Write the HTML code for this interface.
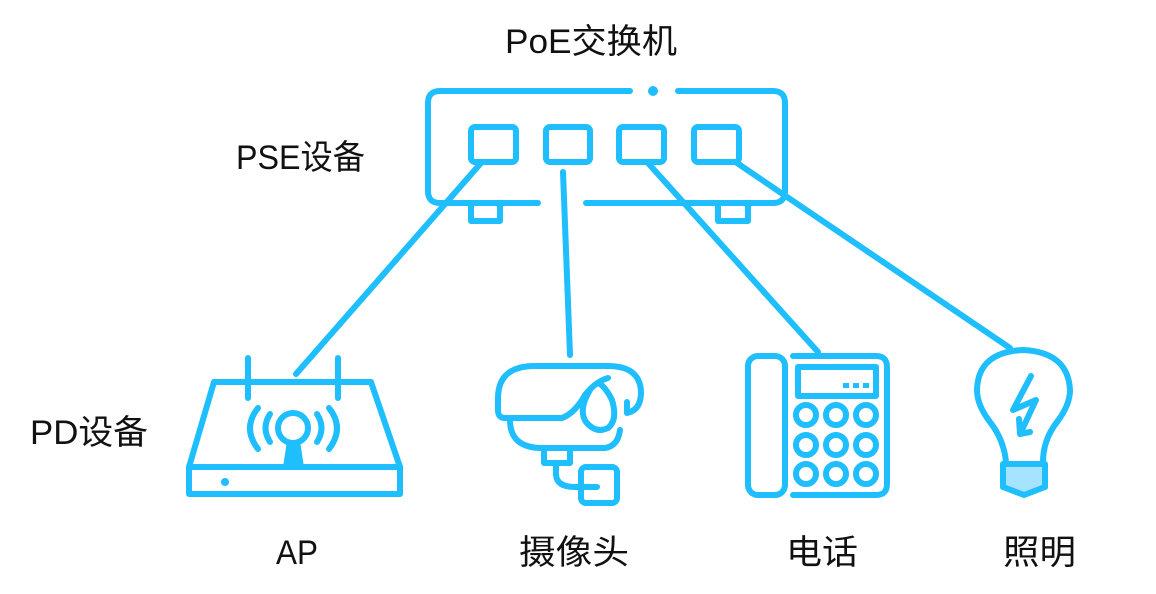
<!DOCTYPE html>
<html><head><meta charset="utf-8"><style>
html,body{margin:0;padding:0;background:#fff;}
svg{display:block;}
text{font-family:"Liberation Sans","Noto Sans CJK SC",sans-serif;font-size:34px;fill:#111;}
</style></head><body>
<svg width="1156" height="594" viewBox="0 0 1156 594" xmlns="http://www.w3.org/2000/svg">
<g fill="none" stroke="#1ebeff" stroke-width="6" stroke-linecap="round" stroke-linejoin="round">
<path d="M630 91 H440 Q428 91 428 103 V191 Q428 203 440 203 H538"/>
<path d="M678 91 H773 Q785 91 785 103 V191 Q785 203 773 203 H586"/>
<circle cx="653" cy="91" r="2" fill="#1ebeff"/>
<rect x="471" y="127" width="45" height="35" rx="4"/>
<rect x="546" y="127" width="44" height="35" rx="4"/>
<rect x="619" y="127" width="45" height="35" rx="4"/>
<rect x="694" y="127" width="45" height="35" rx="4"/>
<path d="M471 205 V221 H500 V205"/>
<path d="M718 205 V221 H748 V205"/>
<line x1="481" y1="163" x2="296" y2="374"/>
<line x1="563" y1="172" x2="570" y2="355"/>
<line x1="648" y1="163" x2="818" y2="352"/>
<line x1="737" y1="163" x2="1010" y2="348"/>
<!-- AP -->
<line x1="248" y1="358" x2="248" y2="398"/>
<line x1="338" y1="358" x2="338" y2="398"/>
<path d="M214 382 H371 L400 467 V494 H189 V467 Z"/>
<line x1="189" y1="467" x2="400" y2="467"/>
<circle cx="293" cy="428" r="15"/>
<path d="M258 408 Q242 428 258 449"/>
<path d="M270 414 Q261 428 270 442"/>
<path d="M329 408 Q345 428 329 449"/>
<path d="M317 414 Q326 428 317 442"/>
<!-- camera -->
<path d="M562 418 H505 Q498 418 498 410 V398 Q498 366 535 366 H608 Q640 366 641 392 Q641 410 627 413 V402"/>
<path d="M562 418 Q575 413 585 395 Q595 382 608 378"/>
<path d="M590 390 Q578 410 586 422 Q596 434 608 428 Q618 420 612 400 Q606 388 600 384"/>
<path d="M510 420 Q510 447 540 448 H605 Q618 446 620 430"/>
<path d="M544 448 V463 H570 V448"/>
<path d="M556 463 V475 Q557 487 575 487 H597"/>
<rect x="581" y="467" width="36" height="36" rx="5"/>
<!-- phone -->
<rect x="748" y="356" width="37" height="139" rx="10"/>
<path d="M793 356 H876 Q887 356 887 367 V484 Q887 495 876 495 H793"/>
<rect x="798" y="367" width="78" height="29"/>
<g>
<circle cx="806" cy="415" r="10"/><circle cx="836" cy="415" r="10"/><circle cx="866" cy="415" r="10"/>
<circle cx="806" cy="445" r="10"/><circle cx="836" cy="445" r="10"/><circle cx="866" cy="445" r="10"/>
<circle cx="806" cy="474" r="10"/><circle cx="836" cy="474" r="10"/><circle cx="866" cy="474" r="10"/>
</g>
<!-- bulb -->
<path d="M1006 462 Q1004 440 990 422 Q977 405 977 390 Q978 352 1023 350 Q1068 352 1070 390 Q1070 405 1057 422 Q1043 440 1043 462"/>
<path d="M1031 376 L1013 410 L1036 400 L1020 434 M1019 419 L1020 434 L1030 432"/>
<path d="M1003 464 H1045 V487 L1024 495 L1003 487 Z" fill="#a6e3ff"/>
</g>
<g fill="#1ebeff">
<circle cx="225" cy="482" r="4"/>
<path d="M287 441 H300 L304 467 H283 Z"/>
<rect x="843" y="383" width="6" height="5"/><rect x="853" y="383" width="6" height="5"/><rect x="863" y="383" width="6" height="5"/>
</g>
<text x="505" y="53" textLength="172" lengthAdjust="spacingAndGlyphs">PoE交换机</text>
<text x="236" y="169" textLength="129" lengthAdjust="spacingAndGlyphs">PSE设备</text>
<text x="30" y="444" textLength="118" lengthAdjust="spacingAndGlyphs">PD设备</text>
<text x="276" y="564" textLength="42" lengthAdjust="spacingAndGlyphs">AP</text>
<text x="519" y="564" textLength="110" lengthAdjust="spacingAndGlyphs">摄像头</text>
<text x="786" y="564" textLength="72" lengthAdjust="spacingAndGlyphs">电话</text>
<text x="1003" y="564" textLength="73" lengthAdjust="spacingAndGlyphs">照明</text>
</svg>
</body></html>
